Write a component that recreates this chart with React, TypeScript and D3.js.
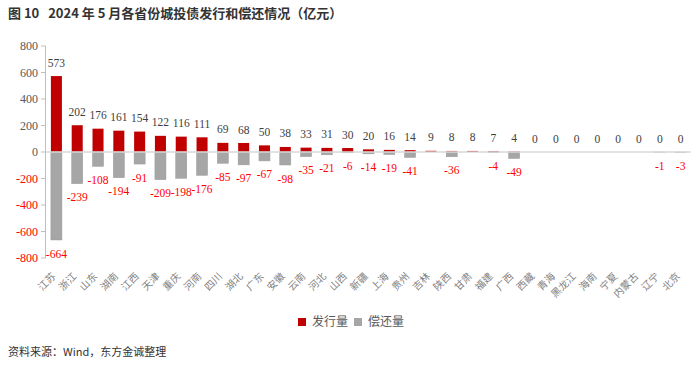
import * as d3 from "d3";

// 2024年5月各省份城投债发行和偿还（亿元）
const provinces = [
  "江苏", "浙江", "山东", "湖南", "江西", "天津", "重庆", "河南", "四川", "湖北",
  "广东", "安徽", "云南", "河北", "山西", "新疆", "上海", "贵州", "吉林", "陕西",
  "甘肃", "福建", "广西", "西藏", "青海", "黑龙江", "海南", "宁夏", "内蒙古", "辽宁", "北京",
];
const issuance = [
  573, 202, 176, 161, 154, 122, 116, 111, 69, 68,
  50, 38, 33, 31, 30, 20, 16, 14, 9, 8,
  8, 7, 4, 0, 0, 0, 0, 0, 0, 0, 0,
];
const repayment = [
  -664, -239, -108, -194, -91, -209, -198, -176, -85, -97,
  -67, -98, -35, -21, -6, -14, -19, -41, 0, -36,
  0, -4, -49, 0, 0, 0, 0, 0, 0, -1, -3,
];
const yTicks = [800, 600, 400, 200, 0, -200, -400, -600, -800];

const RED = "#C00000";
const GRAY = "#A6A6A6";
const serif = "Liberation Serif, serif";
const cjk = "Noto Sans CJK SC, sans-serif";

export default function App() {
  const width = 700;
  const height = 370;

  const x = d3.scaleBand<string>().domain(provinces).range([46, 691]).paddingInner(0.47).paddingOuter(0.235);
  const y = d3.scaleLinear().domain([-800, 800]).range([258, 46]);
  const bw = x.bandwidth();

  return (
    <svg width={width} height={height} style={{ position: "absolute", left: 0, top: 0, background: "#fff" }}>
      <text x={8} y={18} fontFamily={cjk} fontWeight="bold" fontSize={13} fill="#333">
        图 10{"\u00a0\u00a0\u00a0"}2024 年 5 月各省份城投债发行和偿还情况（亿元）
      </text>

      {/* y axis */}
      <line x1={45.5} x2={45.5} y1={y(800)} y2={y(-800)} stroke="#BFBFBF" />
      {yTicks.map((t) => (
        <g key={t}>
          <line x1={41} x2={45.5} y1={y(t)} y2={y(t)} stroke="#BFBFBF" />
          <text x={38} y={y(t)} dy="0.35em" textAnchor="end" fontFamily={serif} fontSize={12}
            fill={t < 0 ? "#FF0000" : "#595959"}>
            {t}
          </text>
        </g>
      ))}

      {/* bars */}
      {provinces.map((p, i) => (
        <g key={p}>
          {issuance[i] > 0 && (
            <rect x={x(p)} y={y(issuance[i])} width={bw} height={y(0) - y(issuance[i])} fill={RED} />
          )}
          {repayment[i] < 0 && (
            <rect x={x(p)} y={y(0)} width={bw} height={y(repayment[i]) - y(0)} fill={GRAY} stroke="#999" strokeWidth={0.5} />
          )}
        </g>
      ))}

      {/* zero line */}
      <line x1={46} x2={691} y1={y(0)} y2={y(0)} stroke="#D9D9D9" strokeWidth={1.5} />

      {/* labels */}
      {provinces.map((p, i) => {
        const cx = (x(p) ?? 0) + bw / 2;
        return (
          <g key={p + "-lab"}>
            <text x={cx} y={y(issuance[i]) - 13.5} dy="0.35em" textAnchor="middle" fontFamily={serif}
              fontSize={11.5} fill="#404040">
              {issuance[i]}
            </text>
            {repayment[i] < 0 && (
              <text x={cx} y={y(repayment[i]) + 13.5} dy="0.35em" textAnchor="middle" fontFamily={serif}
                fontSize={11.5} fill="#FF0000">
                {repayment[i]}
              </text>
            )}
            <text transform={`translate(${cx},${277}) rotate(-45)`} textAnchor="end" fontFamily={cjk}
              fontSize={10} fill="#7F7F7F">
              {p}
            </text>
          </g>
        );
      })}

      {/* legend */}
      <rect x={298} y={318} width={8} height={8} fill={RED} />
      <text x={312} y={322} dy="0.35em" fontFamily={cjk} fontSize={12} fill="#595959">发行量</text>
      <rect x={354} y={318} width={8} height={8} fill={GRAY} />
      <text x={368} y={322} dy="0.35em" fontFamily={cjk} fontSize={12} fill="#595959">偿还量</text>

      <text x={8} y={352} dy="0.35em" fontFamily={cjk} fontSize={11} fill="#333">
        资料来源：Wind，东方金诚整理
      </text>
    </svg>
  );
}
